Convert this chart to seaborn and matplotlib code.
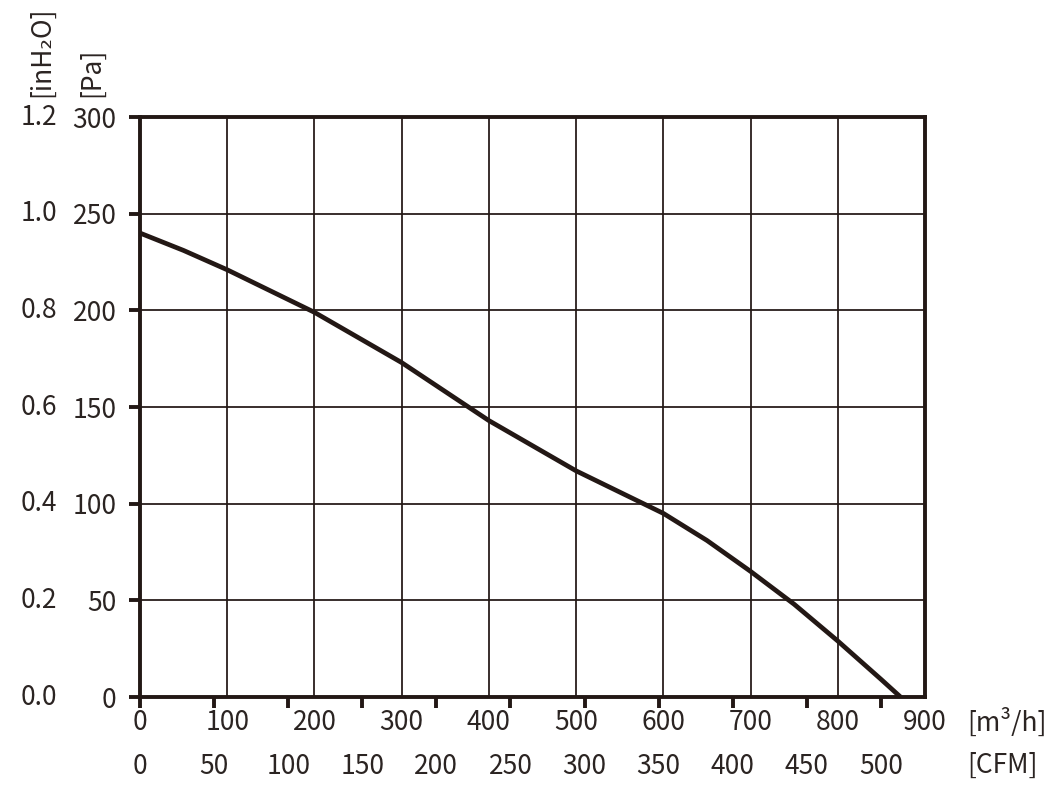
import matplotlib
matplotlib.use('Agg')
import matplotlib.pyplot as plt
import seaborn as sns
import pandas as pd

# ---- data ----
airflow_m3h = [0, 50, 100, 150, 200, 250, 300, 350, 400, 450, 500, 550, 600, 650, 700, 750, 800, 850, 872]
pressure_pa = [240, 231, 221, 210, 199, 186, 173, 158, 143, 130, 117, 106, 95, 81, 65, 48, 29, 9, 0]

pa_ticks = [0, 50, 100, 150, 200, 250, 300]
pa_labels = ["0", "50", "100", "150", "200", "250", "300"]
inh2o_labels = ["0.0", "0.2", "0.4", "0.6", "0.8", "1.0", "1.2"]
m3h_ticks = [0, 100, 200, 300, 400, 500, 600, 700, 800, 900]
cfm_ticks = [0, 50, 100, 150, 200, 250, 300, 350, 400, 450, 500]
M3H_PER_CFM = 1.699

ink = '#231815'
txt = '#2b2422'
FS = 19

sns.set_style('white')
plt.rcParams['font.family'] = ['Noto Sans CJK JP', 'DejaVu Sans']

fig = plt.figure(figsize=(10.51, 7.91), dpi=100)
ax = fig.add_axes([0.1332, 0.1188, 0.7469, 0.7332])

df = pd.DataFrame({'m3h': airflow_m3h, 'pa': pressure_pa})
sns.lineplot(data=df, x='m3h', y='pa', ax=ax, color=ink, lw=3.4, zorder=5)

ax.set_xlim(0, 900)
ax.set_ylim(0, 300)
ax.set_xlabel('')
ax.set_ylabel('')

ax.set_xticks(m3h_ticks)
ax.set_xticklabels([str(v) for v in m3h_ticks])
ax.set_yticks(pa_ticks)
ax.set_yticklabels(pa_labels)
ax.grid(True, color=ink, lw=1.4, alpha=0.9)
ax.set_axisbelow(True)

for s in ax.spines.values():
    s.set_visible(True)
    s.set_color(ink)
    s.set_linewidth(2.8)
    s.set_zorder(6)

ax.tick_params(axis='x', length=0, pad=8.5, labelsize=FS, labelcolor=txt)
ax.tick_params(axis='y', direction='out', length=8, width=2.8, color=ink,
               pad=9, labelsize=FS, labelcolor=txt, left=True)

# second Pa-equivalent column (inH2O)
ytrans = ax.get_yaxis_transform()
for p, lab in zip(pa_ticks, inh2o_labels):
    ax.text(-0.106, p, lab, transform=ytrans, ha='right', va='center',
            fontsize=FS, color=txt)

# CFM secondary axis
sec = ax.secondary_xaxis('bottom', functions=(lambda x: x / M3H_PER_CFM,
                                               lambda c: c * M3H_PER_CFM))
sec.set_xticks(cfm_ticks)
sec.set_xticklabels([str(v) for v in cfm_ticks])
sec.tick_params(direction='out', length=8, width=2.8, color=ink, pad=32,
                labelsize=FS, labelcolor=txt)
sec.spines['bottom'].set_visible(False)

# unit labels
fig.text(967 / 1051, 1 - 722 / 791, '[m³/h]', ha='left', va='center', fontsize=FS, color=txt)
fig.text(967 / 1051, 1 - 765 / 791, '[CFM]', ha='left', va='center', fontsize=FS, color=txt)
fig.text(92 / 1051, 1 - 97 / 791, '[Pa]', rotation=90, ha='center', va='bottom', fontsize=FS, color=txt)
fig.text(42 / 1051, 1 - 97 / 791, '[inH₂O]', rotation=90, ha='center', va='bottom', fontsize=FS, color=txt)

fig.savefig('out.png', dpi=100, facecolor='white')
